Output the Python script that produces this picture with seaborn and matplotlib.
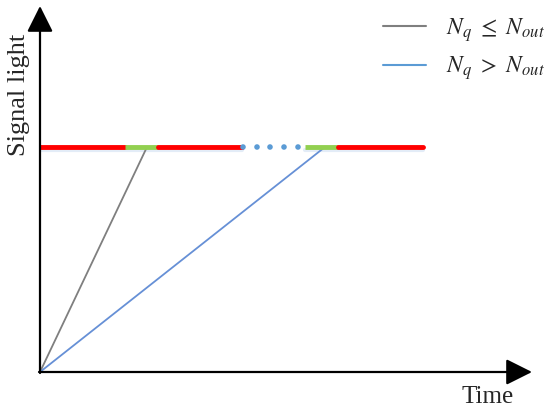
import matplotlib
matplotlib.use("Agg")
import matplotlib.pyplot as plt
import seaborn as sns
import pandas as pd
from matplotlib.lines import Line2D

sns.set_style("white")
plt.rcParams['font.family'] = ['Liberation Serif', 'DejaVu Serif']
plt.rcParams['mathtext.fontset'] = 'stix'

# уровень сигнала и отрезки фаз (в условных единицах времени)
signal_level = 225
red_1 = [0, 85]
green_1 = [85, 118]
red_2 = [118, 202]
dots_x = [203, 217, 230, 244, 258]
green_2 = [265, 298]
red_3 = [298, 383]

# прямые прибытия очереди
gray_x = [0, 107]
gray_y = [0, 225]
blue_x = [0, 285]
blue_y = [0, 225]

fig = plt.figure(figsize=(5.5, 4.12), dpi=100)
ax = fig.add_axes([40 / 550, 40 / 412, 478 / 550, 364 / 412])
ax.set_xlim(0, 478)
ax.set_ylim(0, 364)
for s in ax.spines.values():
    s.set_visible(False)
ax.set_xticks([])
ax.set_yticks([])

red = '#ff0000'
green = '#92d050'
blue = '#5b9bd5'

sns.lineplot(x=gray_x, y=gray_y, color='#7f7f7f', lw=1.3, ax=ax)
sns.lineplot(x=blue_x, y=blue_y, color='#6690d6', lw=1.3, ax=ax)

# лёгкая тень под линией сигнала (только под сплошными участками)
for seg in [[red_1[0], red_2[1]], [green_2[0], red_3[1]]]:
    sns.lineplot(x=seg, y=[signal_level - 2.5] * 2, color='#e3ecf7', lw=3,
                 ax=ax, zorder=1)
for seg, c in [(red_1, red), (green_1, green), (red_2, red), (green_2, green), (red_3, red)]:
    sns.lineplot(x=seg, y=[signal_level, signal_level], color=c, lw=3.5,
                 solid_capstyle='round' if c == red else 'butt', ax=ax, zorder=3)
sns.scatterplot(x=dots_x, y=[signal_level] * len(dots_x), color=blue, s=16,
                edgecolor='none', ax=ax, zorder=3)

# оси со стрелками
arrow = dict(arrowstyle='-|>,head_length=0.8,head_width=0.4', color='black',
             lw=1.6, mutation_scale=20, shrinkA=0, shrinkB=0)
ax.annotate('', xy=(0, 366), xytext=(0, -1), xycoords='data',
            arrowprops=arrow, annotation_clip=False)
ax.annotate('', xy=(492, 0), xytext=(-1, 0), xycoords='data',
            arrowprops=arrow, annotation_clip=False)

fig.text(19 / 550, 1 - 95 / 412, 'Signal light', rotation=90, ha='center', va='center', fontsize=19)
fig.text(488 / 550, 1 - 397 / 412, 'Time', ha='center', va='center', fontsize=18)

handles = [Line2D([], [], color='#7f7f7f', lw=1.5),
           Line2D([], [], color=blue, lw=1.5)]
labels = [r'$N_q\ \leq\ N_{out}$', r'$N_q\ >\ N_{out}$']
fig.legend(handles, labels, loc='upper right', bbox_to_anchor=(545 / 550, 1 - 16 / 412),
           frameon=False, fontsize=17, handlelength=1.8, handletextpad=0.85,
           labelspacing=0.45, borderpad=0, borderaxespad=0)

fig.savefig('out.png', dpi=100)
